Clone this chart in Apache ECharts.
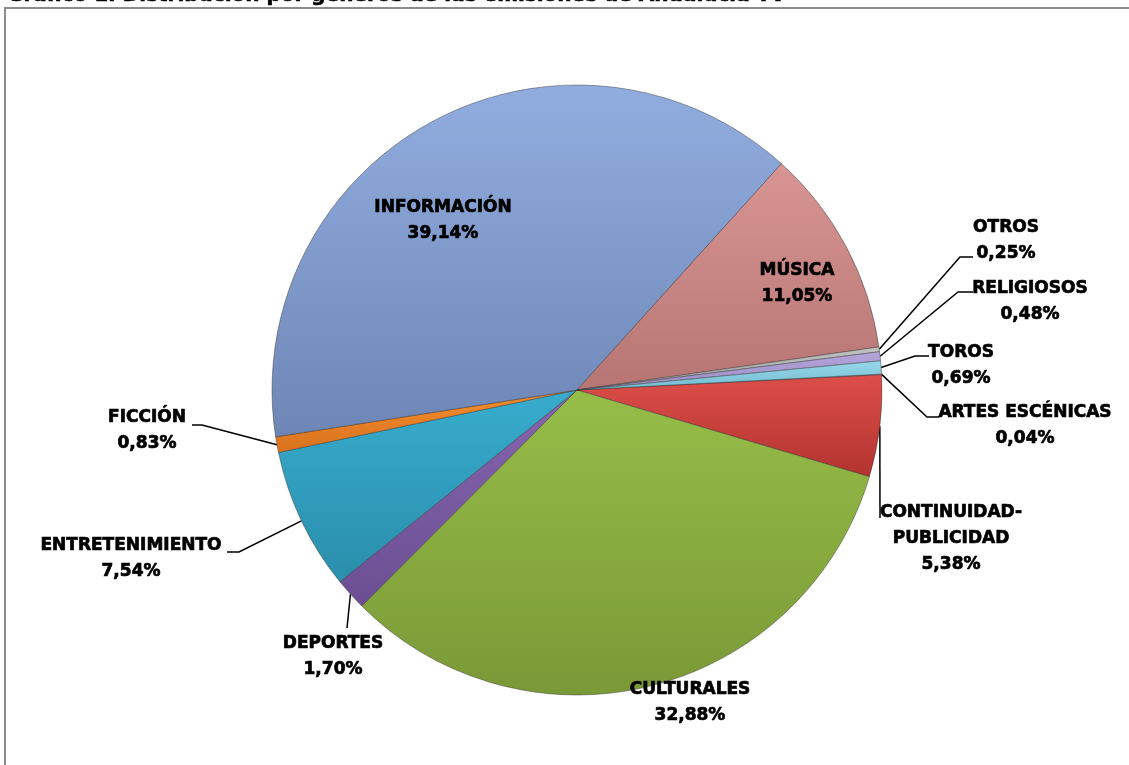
<!DOCTYPE html>
<html>
<head>
<meta charset="utf-8">
<script src="https://cdn.jsdelivr.net/npm/echarts@6/dist/echarts.min.js"></script>
<style>
html,body{margin:0;padding:0;background:#fff;}
#chart{width:1129px;height:765px;}
</style>
</head>
<body>
<div id="chart"></div>
<script>
// ---- data ----
const categories = ['ARTES ESCÉNICAS','CONTINUIDAD-PUBLICIDAD','CULTURALES','DEPORTES','ENTRETENIMIENTO','FICCIÓN','INFORMACIÓN','MÚSICA','OTROS','RELIGIOSOS','TOROS'];
const labelNames = ['ARTES ESCÉNICAS','CONTINUIDAD-\nPUBLICIDAD','CULTURALES','DEPORTES','ENTRETENIMIENTO','FICCIÓN','INFORMACIÓN','MÚSICA','OTROS','RELIGIOSOS','TOROS'];
const values = [0.04, 5.38, 32.88, 1.70, 7.54, 0.83, 39.14, 11.05, 0.25, 0.48, 0.69];
const titleText = 'Gráfico 1. Distribución por géneros de las emisiones de Andalucía TV';

// ---- styles ----
const lightColors = ['#a8bde0','#dd4e4a','#96bd48','#8666b0','#38accd','#f68d2e','#91addf','#d89593','#c2c2c2','#b6a6dc','#98d8ec'];
const darkColors  = ['#8aa0c8','#b2332f','#7a9937','#6b4e92','#2a8eac','#d8721e','#6e86b5','#b67573','#a0a0a0','#9a8ac4','#72bbd0'];

// label placement (center of label block) and leader elbows
const labelPlace = [
  {x:1025, y:426, elbow:[927,417], end:[939,417]},
  {x:951,  y:539, elbow:[880,518], end:[880,518]},
  {x:690,  y:703},
  {x:333,  y:657, elbow:[347,628], end:[347,628]},
  {x:131,  y:559, elbow:[239,552], end:[227,552]},
  {x:147,  y:431, elbow:[202,425], end:[192,425]},
  {x:443,  y:221},
  {x:797,  y:284},
  {x:1006, y:241, elbow:[960,257], end:[973,257]},
  {x:1030, y:302, elbow:[958,292], end:[973,292]},
  {x:961,  y:366, elbow:[915,356], end:[929,356]}
];

const fmt = v => v.toFixed(2).replace('.', ',') + '%';

const data = categories.map((c, i) => ({
  name: c,
  value: values[i],
  itemStyle: {
    color: new echarts.graphic.LinearGradient(0, 0, 0, 1, [
      {offset: 0, color: lightColors[i]},
      {offset: 1, color: darkColors[i]}
    ])
  },
  labelLine: {show: !!labelPlace[i].elbow}
}));

const chart = echarts.init(document.getElementById('chart'), null, {renderer: 'canvas'});
chart.setOption({
  animation: false,
  backgroundColor: '#ffffff',
  graphic: [
    {
      type: 'rect',
      shape: {x: 5, y: 8, width: 1400, height: 1000},
      style: {fill: 'none', stroke: '#8c8c8c', lineWidth: 2},
      silent: true
    },
    {
      type: 'text',
      x: 7, y: 6,
      style: {
        text: titleText,
        font: 'bold 20px "DejaVu Sans"',
        fill: '#000',
        stroke: '#000',
        lineWidth: 0.6,
        verticalAlign: 'bottom'
      },
      silent: true
    }
  ],
  series: [{
    type: 'pie',
    center: [577, 390],
    radius: 305,
    startAngle: 3,
    clockwise: true,
    avoidLabelOverlap: false,
    itemStyle: {borderColor: 'rgba(50,50,50,0.45)', borderWidth: 1},
    label: {
      show: true,
      position: 'outside',
      formatter: p => labelNames[p.dataIndex] + '\n' + fmt(p.value),
      fontFamily: 'DejaVu Sans',
      fontWeight: 'bold',
      fontSize: 17,
      lineHeight: 26,
      color: '#000',
      textBorderColor: '#000',
      textBorderWidth: 0.7,
      align: 'center'
    },
    labelLine: {
      show: true,
      lineStyle: {color: '#000', width: 1.5}
    },
    labelLayout: function (params) {
      const L = labelPlace[params.dataIndex];
      const out = {x: L.x, y: L.y, align: 'center', verticalAlign: 'middle'};
      if (L.elbow && params.labelLinePoints) {
        out.labelLinePoints = [params.labelLinePoints[0], L.elbow, L.end];
      }
      return out;
    },
    data: data
  }]
});
</script>
</body>
</html>
